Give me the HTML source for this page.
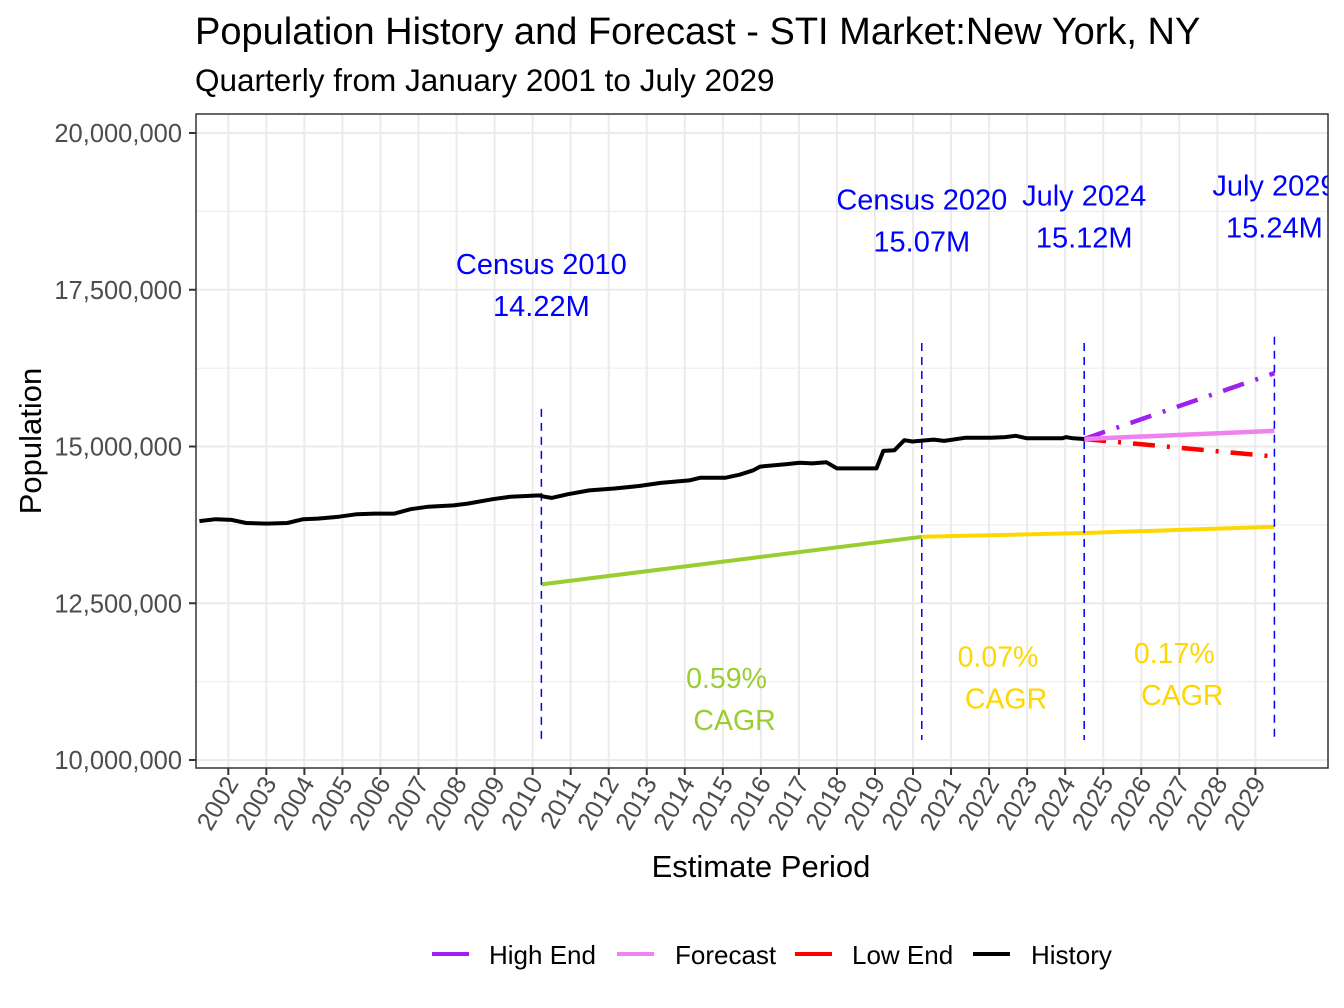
<!DOCTYPE html>
<html><head><meta charset="utf-8"><style>
html,body{margin:0;padding:0;background:#fff}
svg{display:block;font-family:"Liberation Sans",Arial,sans-serif}
</style></head><body>
<svg id="chart" width="1344" height="1008" viewBox="0 0 1344 1008" xmlns="http://www.w3.org/2000/svg">
<defs><clipPath id="panelClip"><rect x="196" y="114" width="1132" height="654"/></clipPath></defs>
<text x="195" y="44" font-size="38" fill="#000">Population History and Forecast - STI Market:New York, NY</text>
<text x="195" y="91" font-size="31.5" fill="#000">Quarterly from January 2001 to July 2029</text>
<rect x="196" y="114" width="1132" height="654" fill="#fff"/>
<g id="grid"></g>
<g id="marks" clip-path="url(#panelClip)"></g>
<rect x="196" y="114" width="1132" height="654" fill="none" stroke="#333" stroke-width="1.5"/>
<g id="axes"></g>
<text x="761" y="877" font-size="31" text-anchor="middle" fill="#000">Estimate Period</text>
<text transform="translate(41,441) rotate(-90)" font-size="31" text-anchor="middle" fill="#000">Population</text>
<g font-size="26">
<g><line x1="432" y1="954" x2="469" y2="954" stroke="#A020F0" stroke-width="4"/><text x="489" y="964">High End</text></g>
<g><line x1="617" y1="954" x2="654" y2="954" stroke="#EE82EE" stroke-width="4"/><text x="675" y="964">Forecast</text></g>
<g><line x1="795" y1="954" x2="832" y2="954" stroke="#FF0000" stroke-width="4"/><text x="852" y="964">Low End</text></g>
<g><line x1="973" y1="954" x2="1010" y2="954" stroke="#000" stroke-width="4"/><text x="1031" y="964">History</text></g>
</g>
</svg>
<script>
const historyYears=[2001.24,2001.67,2002.09,2002.47,2003.0,2003.55,2003.97,2004.35,2004.91,2005.38,2005.85,2006.37,2006.79,2007.26,2007.92,2008.29,2008.95,2009.42,2010.17,2010.31,2010.5,2010.93,2011.49,2012.15,2012.8,2013.37,2014.12,2014.4,2015.06,2015.44,2015.8,2015.98,2016.69,2017.02,2017.35,2017.72,2018.0,2019.04,2019.22,2019.51,2019.77,2019.98,2020.54,2020.82,2021.39,2022.05,2022.42,2022.7,2022.99,2023.93,2024.02,2024.21,2024.5];
const historyValues=[13.81,13.84,13.83,13.78,13.77,13.78,13.84,13.85,13.88,13.92,13.93,13.93,14.0,14.04,14.06,14.09,14.16,14.2,14.22,14.2,14.18,14.24,14.3,14.33,14.37,14.42,14.46,14.5,14.5,14.55,14.62,14.68,14.72,14.74,14.73,14.75,14.65,14.65,14.93,14.94,15.1,15.08,15.11,15.09,15.14,15.14,15.15,15.17,15.13,15.13,15.15,15.13,15.12];
const forecastYears=[2024.5,2029.5];
const forecastValues=[15.12,15.25];
const highValues=[15.12,16.17];
const lowValues=[15.12,14.84];
const cagrYears=[2010.23,2020.23,2024.5,2029.5];
const cagrValues=[12.80,13.56,13.62,13.72];
const markerYears=[2010.23,2020.23,2024.5,2029.5];
const markerLabels=["Census 2010","Census 2020","July 2024","July 2029"];
const markerValuesText=["14.22M","15.07M","15.12M","15.24M"];
const markerLineTops=[15.6,16.65,16.65,16.75];
const markerLabelTops=[17.75,18.78,18.84,19.0];
const cagrTexts=["0.59%","0.07%","0.17%"];
const cagrLabelValues=[11.15,11.49,11.55];
const yTicks=[10,12.5,15,17.5,20];
const yTickLabels=["10,000,000","12,500,000","15,000,000","17,500,000","20,000,000"];
const xTicks=[2002,2003,2004,2005,2006,2007,2008,2009,2010,2011,2012,2013,2014,2015,2016,2017,2018,2019,2020,2021,2022,2023,2024,2025,2026,2027,2028,2029];

const NS="http://www.w3.org/2000/svg";
function X(yr){return 228.3+(yr-2002)*38.04;}
function Y(v){return 760-(v-10)*62.7;}
function mk(tag,attrs,parent){const e=document.createElementNS(NS,tag);for(const k in attrs)e.setAttribute(k,attrs[k]);parent.appendChild(e);return e;}
const grid=document.getElementById('grid'),marks=document.getElementById('marks'),axes=document.getElementById('axes');
for(let i=0;i<yTicks.length-1;i++){const v=(yTicks[i]+yTicks[i+1])/2;const l=mk('line',{x1:196,x2:1328,y1:Y(v),y2:Y(v),stroke:'#ebebeb','stroke-width':1},grid);

}
yTicks.forEach((v,i)=>{const l=mk('line',{x1:196,x2:1328,y1:Y(v),y2:Y(v),stroke:'#ebebeb','stroke-width':2},grid);


const t=mk('line',{x1:189,x2:196,y1:Y(v),y2:Y(v),stroke:'#333','stroke-width':2},axes);


const tx=mk('text',{x:182,y:Y(v)+9,'text-anchor':'end','font-size':25.5,fill:'#4d4d4d'},axes);tx.textContent=yTickLabels[i];

});
xTicks.forEach(yr=>{const x=X(yr);const l=mk('line',{x1:x,x2:x,y1:114,y2:768,stroke:'#ebebeb','stroke-width':2},grid);


const t=mk('line',{x1:x,x2:x,y1:768,y2:775,stroke:'#333','stroke-width':2},axes);


const tx=mk('text',{transform:`translate(${x+11},${783}) rotate(-60)`,'text-anchor':'end','font-size':25.5,fill:'#4d4d4d'},axes);tx.textContent=String(yr);

});
function pts(xs,vs){return xs.map((x,i)=>X(x).toFixed(1)+','+Y(vs[i]).toFixed(1)).join(' ');}
const g1=mk('polyline',{points:pts(cagrYears.slice(0,2),cagrValues.slice(0,2)),fill:'none',stroke:'#9ACD32','stroke-width':4},marks);


const g2=mk('polyline',{points:pts(cagrYears.slice(1),cagrValues.slice(1)),fill:'none',stroke:'#FFD700','stroke-width':4},marks);


markerYears.forEach((yr,i)=>{const l=mk('line',{x1:X(yr),x2:X(yr),y1:Y(markerLineTops[i]),y2:740,stroke:'#0000FF','stroke-width':1.5,'stroke-dasharray':'8,6'},marks);


const t1=mk('text',{x:X(yr),y:Y(markerLabelTops[i]),'text-anchor':'middle','font-size':29,fill:'#0000FF'},marks);t1.textContent=markerLabels[i];


const t2=mk('text',{x:X(yr),y:Y(markerLabelTops[i])+42,'text-anchor':'middle','font-size':29,fill:'#0000FF'},marks);t2.textContent=markerValuesText[i];

});
const cagrColors=['#9ACD32','#FFD700','#FFD700'];
cagrTexts.forEach((s,i)=>{const cx=(X(markerYears[i])+X(markerYears[i+1]))/2;
const t1=mk('text',{x:cx-5,y:Y(cagrLabelValues[i]),'text-anchor':'middle','font-size':28.5,fill:cagrColors[i]},marks);t1.textContent=s;


const t2=mk('text',{x:cx+3,y:Y(cagrLabelValues[i])+42,'text-anchor':'middle','font-size':28.5,fill:cagrColors[i]},marks);t2.textContent='CAGR';

});
const hi=mk('polyline',{points:pts(forecastYears,highValues),fill:'none',stroke:'#A020F0','stroke-width':4.5,'stroke-dasharray':'22,12,3,12'},marks);


const lo=mk('polyline',{points:pts(forecastYears,lowValues),fill:'none',stroke:'#FF0000','stroke-width':4.5,'stroke-dasharray':'22,12,3,12'},marks);


const fc=mk('polyline',{points:pts(forecastYears,forecastValues),fill:'none',stroke:'#EE82EE','stroke-width':4.5},marks);


const hs=mk('polyline',{points:pts(historyYears,historyValues),fill:'none',stroke:'#000','stroke-width':4,'stroke-linejoin':'round'},marks);


</script>
</body></html>
